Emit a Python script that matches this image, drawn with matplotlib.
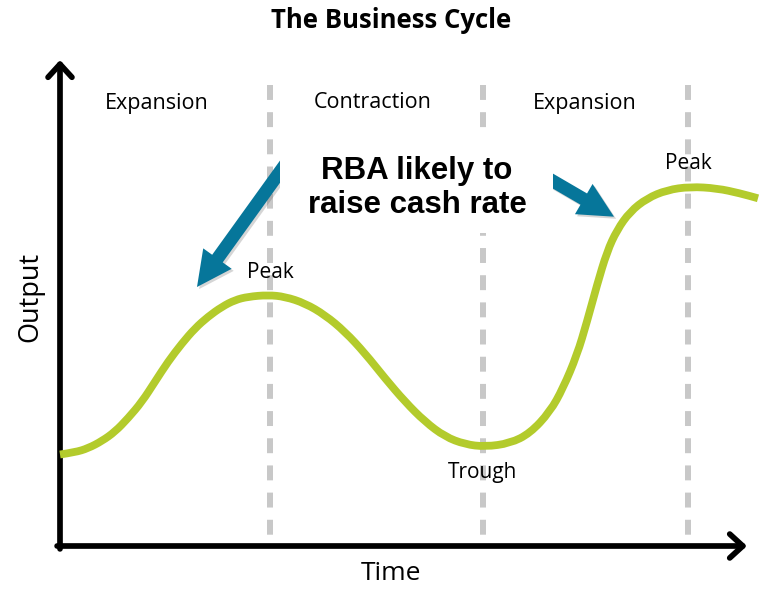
import matplotlib
matplotlib.use("Agg")
import matplotlib.pyplot as plt
from matplotlib.patches import FancyArrow, Rectangle, PathPatch
from matplotlib.path import Path
import matplotlib.patheffects as pe

# ---------------- data ----------------
# time (arbitrary units) and output (arbitrary units)
time = [0, 15, 28, 42, 55, 68, 82, 95, 108, 122, 135, 148, 162, 175, 188,
        208, 225, 245, 265, 285, 305, 325, 345, 365, 385, 405, 425,
        450, 470, 490, 503, 517, 527, 537, 547, 557, 570, 587, 607, 630,
        657, 680, 698]
output = [91.5, 93.7, 97.7, 105, 114.3, 127.7, 144.3, 164.3, 184.3, 202.7,
          217.7, 229.3, 239.3, 246, 249.3, 251, 249.3, 242.7, 231, 214.3,
          192.7, 167.7, 144.3, 124.3, 109.3, 101.7, 99.3,
          102.7, 112.7, 134.3, 157.7, 191, 224.3, 261, 294.3, 316, 334.3,
          347.7, 356, 359.3, 357.7, 352.7, 347.7]

turning_times = [210, 423, 628]
turning_labels = ["Peak", "Trough", "Peak"]
phase_labels = ["Expansion", "Contraction", "Expansion"]
phase_centers = [97, 313, 525]

title = "The Business Cycle"
xlabel = "Time"
ylabel = "Output"
note = "RBA likely to\nraise cash rate"

# ---------------- style ----------------
W, H = 763, 589
fig = plt.figure(figsize=(W / 100, H / 100), dpi=100)
ax = fig.add_axes([0, 0, 1, 1])
ax.set_xlim(-60, W - 60)
ax.set_ylim(-(H - 546), 546)
ax.axis("off")

LBL = ["Open Sans", "DejaVu Sans"]
green = "#b3cb2c"
teal = "#06769a"
grey = "#c8c8c8"

# axes arrows
for xy, xytext in [((0, 486), (0, -2.9)), ((687, 0), (-2.9, 0))]:
    ax.annotate("", xy=xy, xytext=xytext, xycoords="data",
                arrowprops=dict(arrowstyle="->,head_length=0.94,head_width=0.86",
                                mutation_scale=10, lw=4.1, color="black",
                                shrinkA=0, shrinkB=0))

# dashed phase boundaries
for t in turning_times:
    ax.plot([t, t], [461, 0], color=grey, lw=4.3,
            linestyle=(0, (2.5, 2.05)), zorder=1)

# curve: smooth quadratic path through the read points
pts = list(zip(time, output))
verts = [pts[0]]
codes = [Path.MOVETO]
for i in range(1, len(pts) - 1):
    mid = ((pts[i][0] + pts[i + 1][0]) / 2, (pts[i][1] + pts[i + 1][1]) / 2)
    verts += [pts[i], mid]
    codes += [Path.CURVE3, Path.CURVE3]
verts.append(pts[-1])
codes.append(Path.LINETO)
ax.add_patch(PathPatch(Path(verts, codes), facecolor="none", edgecolor=green,
                       lw=5.6, capstyle="butt", joinstyle="round", zorder=3))

# teal arrows with soft shadow
shadow = [pe.SimplePatchShadow(offset=(1.5, -1.5), alpha=0.22,
                               shadow_rgbFace="#444444"),
          pe.Normal()]
for (x0, y0, x1, y1) in [(236.6, 397.4, 137, 259), (476.1, 374.7, 554, 329.3)]:
    arr = FancyArrow(x0, y0, x1 - x0, y1 - y0, width=13, head_width=35,
                     head_length=35, length_includes_head=True,
                     color=teal, lw=0, zorder=4)
    arr.set_path_effects(shadow)
    ax.add_patch(arr)

# white box behind the note
ax.add_patch(Rectangle((220, 313), 273, 98, facecolor="white",
                       edgecolor="none", zorder=5))
ax.text(357, 358, note, ha="center", va="center", fontsize=22.5,
        fontweight="bold", family=["Liberation Sans", "DejaVu Sans"],
        linespacing=1.2, zorder=6)

# phase labels
for lbl, c in zip(phase_labels, phase_centers):
    ax.text(c, 443, lbl, ha="center", va="center", fontsize=15.5,
            family=LBL, zorder=6)

# turning point labels
offsets = {"Peak": 23, "Trough": -26}
for t, lbl in zip(turning_times, turning_labels):
    i = min(range(len(time)), key=lambda k: abs(time[k] - t))
    ax.text(t, output[i] + offsets[lbl], lbl, ha="center", va="center",
            fontsize=15, family=LBL, zorder=6)

ax.text(331, 526, title, ha="center", va="center", fontsize=18.5,
        fontweight="bold", family=LBL)
ax.text(331, -28, xlabel, ha="center", va="center", fontsize=19, family=LBL)
ax.text(-30, 249, ylabel, ha="center", va="center", fontsize=19.5,
        rotation=90, family=LBL)

fig.savefig("out.png", dpi=100)
